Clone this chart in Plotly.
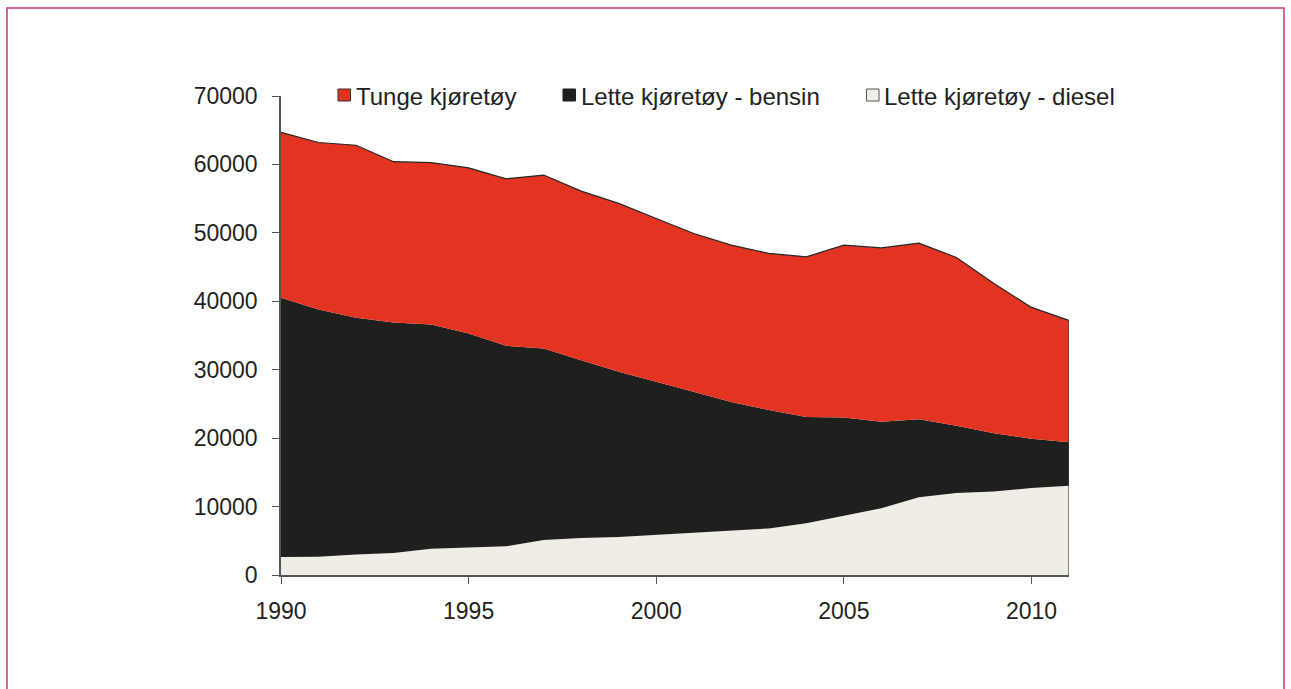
import plotly.graph_objects as go

years = list(range(1990, 2012))
diesel = [2630, 2680, 3000, 3200, 3850, 4000, 4200, 5100, 5400, 5550, 5850,
          6100, 6400, 6800, 7550, 8600, 9750, 11350, 12000, 12200, 12700, 13050]
bensin = [37870, 36120, 34600, 33700, 32750, 31300, 29300, 28000, 26000, 24150, 22400,
          20700, 18900, 17300, 15550, 14400, 12650, 11400, 9800, 8500, 7200, 6350]
tunge = [24200, 24400, 25200, 23500, 23650, 24200, 24400, 25350, 24700, 24600, 23850,
         23100, 22900, 22900, 23400, 25200, 25400, 25750, 24600, 21900, 19200, 17800]
names = ["Tunge kjøretøy", "Lette kjøretøy - bensin", "Lette kjøretøy - diesel"]
colors = {"tunge": "#E33422", "bensin": "#1F1F1D", "diesel": "#F0EDE6"}
x_ticks = [1990, 1995, 2000, 2005, 2010]
y_ticks = [0, 10000, 20000, 30000, 40000, 50000, 60000, 70000]

FONT = "Liberation Sans, Arial, Helvetica, sans-serif"
TXT = "#231F20"

fig = go.Figure()
fig.add_trace(go.Scatter(x=years, y=diesel, name=names[2], stackgroup="one",
                         mode="lines", line=dict(width=0, color=colors["diesel"]),
                         fillcolor=colors["diesel"], showlegend=False))
fig.add_trace(go.Scatter(x=years, y=bensin, name=names[1], stackgroup="one",
                         mode="lines", line=dict(width=0, color=colors["bensin"]),
                         fillcolor=colors["bensin"], showlegend=False))
fig.add_trace(go.Scatter(x=years, y=tunge, name=names[0], stackgroup="one",
                         mode="lines", line=dict(width=1.2, color="#262626"),
                         fillcolor=colors["tunge"], showlegend=False))

total_last = diesel[-1] + bensin[-1] + tunge[-1]
# right edge outline of the stacked area
fig.add_shape(type="line", xref="x", yref="y", x0=years[-1], x1=years[-1],
              y0=0, y1=total_last, line=dict(color="#3A3A3A", width=1.2))

# plot area in pixels (for legend / frame placement)
L, R, T, B = 281, 1069, 96, 575
W, H = R - L, B - T
def px(xp):
    return (xp - L) / W
def py(yp):
    return (B - yp) / H

# manual legend
legend_items = [(338, names[0], colors["tunge"], "#333333"),
                (563, names[1], colors["bensin"], "#1F1F1D"),
                (866.5, names[2], colors["diesel"], "#555555")]
for x0, label, fc, lc in legend_items:
    fig.add_shape(type="rect", xref="paper", yref="paper",
                  x0=px(x0), x1=px(x0 + 12.5), y0=py(101), y1=py(89),
                  fillcolor=fc, line=dict(color=lc, width=1))
    fig.add_annotation(xref="paper", yref="paper", x=px(x0 + 15.5), y=py(96.5),
                       xanchor="left", yanchor="middle", showarrow=False,
                       text=label, font=dict(family=FONT, size=24, color=TXT))

# outer frame
fig.add_shape(type="rect", xref="paper", yref="paper",
              x0=px(7), x1=px(1284), y0=py(720), y1=py(8),
              line=dict(color="#C8347A", width=1.5), fillcolor="rgba(0,0,0,0)",
              layer="below")

fig.update_layout(
    width=1291, height=689,
    margin=dict(l=L, r=1291 - R, t=T, b=689 - B),
    paper_bgcolor="white", plot_bgcolor="white",
    font=dict(family=FONT, size=23, color=TXT),
    showlegend=False,
    xaxis=dict(range=[1990, 2011], tickvals=x_ticks, ticks="outside", ticklen=7,
               tickcolor="#555555", tickwidth=1.2, showline=True, linecolor="#555555",
               linewidth=1.5, showgrid=False, zeroline=False,
               tickfont=dict(family=FONT, size=23, color=TXT), ticklabelstandoff=8),
    yaxis=dict(range=[0, 70000], tickvals=y_ticks, tickformat="d", ticks="outside",
               ticklen=7, tickcolor="#555555", tickwidth=1.2, showline=True,
               linecolor="#555555", linewidth=1.5, showgrid=False, zeroline=False,
               tickfont=dict(family=FONT, size=23, color=TXT), ticklabelstandoff=10),
)

fig.write_html("out.html")
